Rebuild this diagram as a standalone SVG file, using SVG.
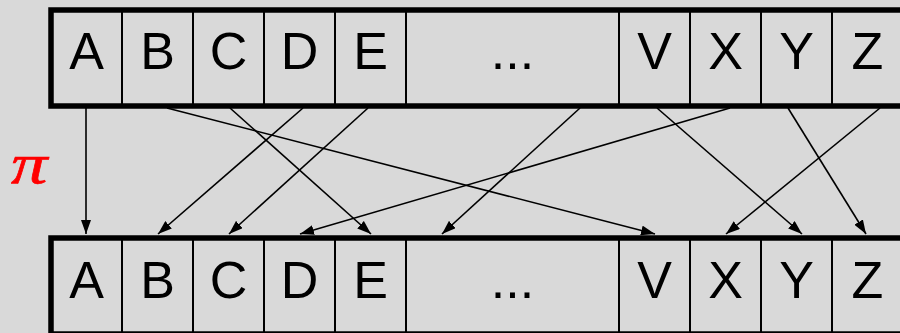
<svg xmlns="http://www.w3.org/2000/svg" width="900" height="333" viewBox="0 0 900 333">
  <defs>
    <marker id="arrow" viewBox="0 0 14 10" refX="14" refY="5" markerWidth="14" markerHeight="10" markerUnits="userSpaceOnUse" orient="auto">
      <path d="M0,0 L14,5 L0,10 z" fill="#000"/>
    </marker>
    <style>
      .frame { fill: none; stroke: #000; stroke-width: 5.5; }
      .div { stroke: #000; stroke-width: 2; }
      .lbl { font-family: "Liberation Sans", Arial, sans-serif; font-size: 52px; fill: #000; text-anchor: middle; }
      .link { stroke: #000; stroke-width: 1.6; fill: none; marker-end: url(#arrow); }
    </style>
  </defs>
  <rect width="900" height="333" fill="#d9d9d9"/>

  <!-- source sequence -->
  <g id="top-row">
    <rect class="frame" x="51" y="10" width="852" height="96"/>
    <g>
      <line class="div" x1="122" y1="10" x2="122" y2="106"/>
      <line class="div" x1="193" y1="10" x2="193" y2="106"/>
      <line class="div" x1="264" y1="10" x2="264" y2="106"/>
      <line class="div" x1="335" y1="10" x2="335" y2="106"/>
      <line class="div" x1="406" y1="10" x2="406" y2="106"/>
      <line class="div" x1="619" y1="10" x2="619" y2="106"/>
      <line class="div" x1="690" y1="10" x2="690" y2="106"/>
      <line class="div" x1="761" y1="10" x2="761" y2="106"/>
      <line class="div" x1="832" y1="10" x2="832" y2="106"/>
    </g>
    <text class="lbl" x="86.5" y="69">A</text>
    <text class="lbl" x="157.5" y="69">B</text>
    <text class="lbl" x="228.5" y="69">C</text>
    <text class="lbl" x="299.5" y="69">D</text>
    <text class="lbl" x="370.5" y="69">E</text>
    <text class="lbl" x="512.5" y="69">...</text>
    <text class="lbl" x="654.5" y="69">V</text>
    <text class="lbl" x="725.5" y="69">X</text>
    <text class="lbl" x="796.5" y="69">Y</text>
    <text class="lbl" x="867.5" y="69">Z</text>
  </g>

  <!-- permuted sequence -->
  <g id="bottom-row">
    <rect class="frame" x="51" y="238" width="852" height="96"/>
    <g>
      <line class="div" x1="122" y1="238" x2="122" y2="334"/>
      <line class="div" x1="193" y1="238" x2="193" y2="334"/>
      <line class="div" x1="264" y1="238" x2="264" y2="334"/>
      <line class="div" x1="335" y1="238" x2="335" y2="334"/>
      <line class="div" x1="406" y1="238" x2="406" y2="334"/>
      <line class="div" x1="619" y1="238" x2="619" y2="334"/>
      <line class="div" x1="690" y1="238" x2="690" y2="334"/>
      <line class="div" x1="761" y1="238" x2="761" y2="334"/>
      <line class="div" x1="832" y1="238" x2="832" y2="334"/>
    </g>
    <text class="lbl" x="86.5" y="298">A</text>
    <text class="lbl" x="157.5" y="298">B</text>
    <text class="lbl" x="228.5" y="298">C</text>
    <text class="lbl" x="299.5" y="298">D</text>
    <text class="lbl" x="370.5" y="298">E</text>
    <text class="lbl" x="512.5" y="298">...</text>
    <text class="lbl" x="654.5" y="298">V</text>
    <text class="lbl" x="725.5" y="298">X</text>
    <text class="lbl" x="796.5" y="298">Y</text>
    <text class="lbl" x="867.5" y="298">Z</text>
  </g>

  <g id="pi-label">
    <text transform="translate(11,183) scale(1.3,1)" font-family="'Liberation Serif', 'Times New Roman', serif" font-style="italic" font-size="56" fill="#ff0000" stroke="#ff0000" stroke-width="0.6">π</text>
  </g>

  <!-- permutation mapping -->
  <g id="connectors">
    <line class="link" x1="86" y1="108" x2="86" y2="234"/>
    <line class="link" x1="167" y1="108" x2="655" y2="234"/>
    <line class="link" x1="230" y1="108" x2="371" y2="234"/>
    <line class="link" x1="303" y1="108" x2="158" y2="234"/>
    <line class="link" x1="368" y1="108" x2="229" y2="234"/>
    <line class="link" x1="580" y1="108" x2="442" y2="234"/>
    <line class="link" x1="657" y1="108" x2="802" y2="234"/>
    <line class="link" x1="730" y1="108" x2="300" y2="234"/>
    <line class="link" x1="788" y1="108" x2="866" y2="234"/>
    <line class="link" x1="880" y1="108" x2="726" y2="234"/>
  </g>
</svg>
